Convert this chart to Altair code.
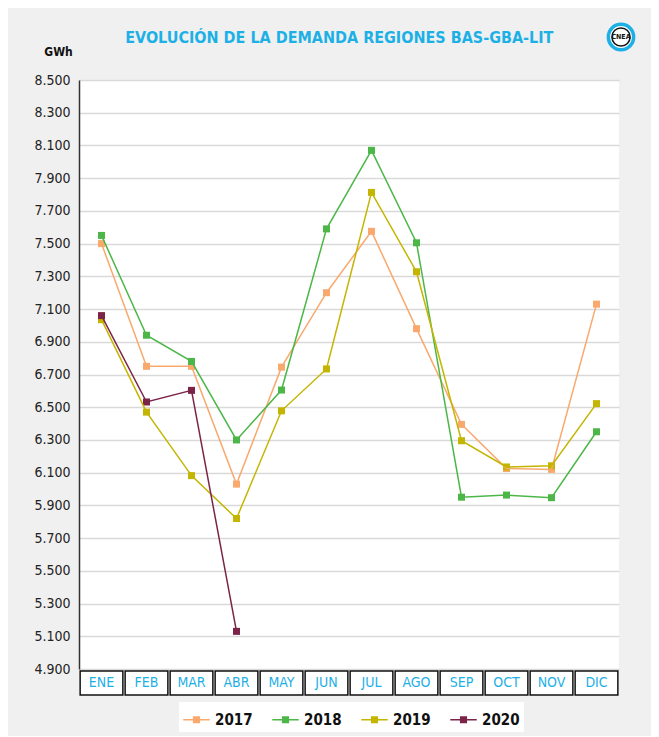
import altair as alt
import pandas as pd

months = ["ENE", "FEB", "MAR", "ABR", "MAY", "JUN", "JUL", "AGO", "SEP", "OCT", "NOV", "DIC"]
years = ["2017", "2018", "2019", "2020"]
colors = ["#f9a96e", "#4cb748", "#c4b500", "#7c2447"]

v2017 = [7500, 6750, 6750, 6030, 6745, 7200, 7575, 6980, 6395, 6125, 6120, 7130]
v2018 = [7550, 6940, 6780, 6300, 6605, 7590, 8070, 7505, 5950, 5963, 5947, 6350]
v2019 = [7035, 6470, 6082, 5820, 6478, 6734, 7813, 7328, 6295, 6135, 6142, 6522]
v2020 = [7060, 6532, 6603, 5130]

y_ticks = list(range(4900, 8501, 200))

title_text = "EVOLUCIÓN DE LA DEMANDA REGIONES BAS-GBA-LIT"
unit_text = "GWh"
logo_text = "CNEA"

FONT = "DejaVu Sans Condensed, Roboto, sans-serif"
BLUE = "#1db0e6"

rows = []
for yr, vals in zip(years, [v2017, v2018, v2019, v2020]):
    for m, v in zip(months, vals):
        rows.append({"mes": m, "anio": yr, "gwh": v})
df = pd.DataFrame(rows)
df_months = pd.DataFrame({"mes": months})
df_logo = pd.DataFrame({"t": [logo_text]})

color = alt.Color(
    "anio:N",
    scale=alt.Scale(domain=years, range=colors),
    legend=alt.Legend(
        title=None,
        orient="none",
        direction="horizontal",
        legendX=100,
        legendY=622,
        symbolType="M-1,-0.06H1V0.06H-1Z M-0.27,-0.27H0.27V0.27H-0.27Z",
        symbolSize=700,
        symbolStrokeWidth=0,
        symbolOpacity=1,
        labelFont=FONT,
        labelFontSize=15,
        labelFontWeight="bold",
        labelColor="#111111",
        labelOffset=5,
        columnPadding=19,
        padding=4,
        fillColor="white",
    ),
)

x_top = alt.X("mes:N", sort=months, scale=alt.Scale(type="point", padding=0.5), axis=None)
y_top = alt.Y(
    "gwh:Q",
    scale=alt.Scale(domain=[4900, 8500], nice=False, zero=False),
    axis=alt.Axis(
        values=y_ticks,
        labelExpr="replace(format(datum.value, ','), ',', '.')",
        labelFont=FONT,
        labelFontSize=14,
        labelColor="#222222",
        labelPadding=9,
        ticks=False,
        grid=True,
        gridColor="#d9d9d9",
        gridWidth=1.5,
        domain=True,
        domainColor="#333333",
        domainWidth=1.5,
        title=unit_text,
        titleAngle=0,
        titleX=-21,
        titleY=-29,
        titleAlign="center",
        titleBaseline="middle",
        titleFont=FONT,
        titleFontSize=12,
        titleFontWeight="bold",
        titleColor="#111111",
    ),
)

base = alt.Chart(df)
points = base.mark_point(shape="square", filled=True, size=49, opacity=1).encode(
    x=x_top, y=y_top, color=color
)
lines = base.mark_line(strokeWidth=1.5).encode(
    x=x_top, y=y_top, color=alt.Color("anio:N", scale=alt.Scale(domain=years, range=colors))
)

logo_ring = alt.Chart(df_logo).mark_point(
    shape="circle", filled=True, fill="white", stroke=BLUE, strokeWidth=3.5, size=640, opacity=1
).encode(x=alt.value(542), y=alt.value(-43))
logo_inner = alt.Chart(df_logo).mark_point(
    shape="circle", filled=False, stroke="#111111", strokeWidth=1.5, size=330, opacity=1
).encode(x=alt.value(542), y=alt.value(-43))
logo_txt = alt.Chart(df_logo).mark_text(
    font=FONT, fontSize=7, fontWeight="bold", color="#111111"
).encode(x=alt.value(542), y=alt.value(-43), text="t:N")

top = alt.layer(points, lines, logo_ring, logo_inner, logo_txt).properties(width=540, height=589)

x_bot = alt.X("mes:N", sort=months, scale=alt.Scale(paddingInner=0.05, paddingOuter=0.025), axis=None)
boxes = alt.Chart(df_months).mark_rect(fill="white", stroke="#111111", strokeWidth=1.5).encode(x=x_bot)
labels = alt.Chart(df_months).mark_text(
    font=FONT, fontSize=14, color=BLUE, baseline="middle"
).encode(x=x_bot, y=alt.value(12), text="mes:N")
bottom = alt.layer(boxes, labels).properties(width=540, height=24)

chart = (
    alt.vconcat(top, bottom, spacing=2, bounds="flush")
    .resolve_scale(x="independent")
    .properties(
        title=alt.TitleParams(
            title_text,
            font=FONT,
            fontSize=16,
            fontWeight="bold",
            color=BLUE,
            anchor="middle",
            offset=-29,
            dx=2,
        ),
        background="#f0f0f0",
        padding={"left": 25, "top": 9, "right": 10, "bottom": 4},
    )
    .configure_view(fill="white", stroke=None)
)

chart.save("out.html", embed_options={"renderer": "svg", "actions": False})
